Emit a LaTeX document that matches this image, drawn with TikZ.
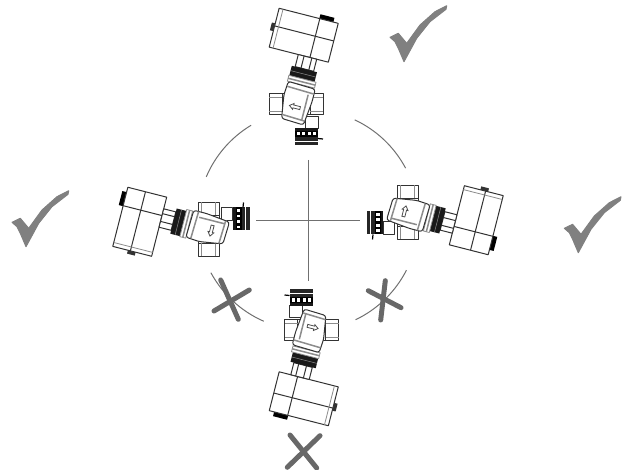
\documentclass[tikz,border=0pt]{standalone}
\usepackage{tikz}

\definecolor{markgray}{HTML}{808080}
\definecolor{crossgray}{HTML}{686868}
\definecolor{arcgray}{HTML}{707070}

\tikzset{
	outline/.style={draw=black!80,line width=1pt,line join=round},
	thinline/.style={draw=black!45,line width=0.8pt},
	thickgray/.style={draw=black!45,line width=1.5pt},
	arcline/.style={draw=arcgray,line width=1pt},
	crossline/.style={draw=crossgray,line width=5pt,line cap=round},
	valve/.pic={
		% stub under the body
		\draw[outline,fill=white] (9,12.7) rectangle (22,24.3);
		\draw[thickgray] (0,18) -- (9,18);
		\fill[black!90] (-1,24.3) rectangle (22,27);
		\fill[black] (-1,27) rectangle (22,33);
		\fill[white] (1,28) rectangle (3.5,31.5);
		\fill[white] (6,28) rectangle (9,31.5);
		\fill[white] (12,28) rectangle (14.5,31.5);
		\fill[white] (17,28) rectangle (20,31.5);
		\fill[black!85] (-1,33) rectangle (22,41);
		\draw[white,line width=0.4pt] (-1,37) -- (22,37);
		\draw[black,line width=1.2pt] (22,34.5) -- (27,35);
		% pipe
		\draw[outline,fill=white] (-27,-10.5) rectangle (27,10.5);
		\draw[outline] (-14,-10.5) -- (-14,10.5);
		\draw[outline] (14,-10.5) -- (14,10.5);
		\draw[thinline] (-27,-7) -- (-14,-7);
		\draw[thinline] (-27,7) -- (-14,7);
		\draw[thinline] (14,-7) -- (27,-7);
		\draw[thinline] (14,7) -- (27,7);
		\begin{scope}[rotate=-14.3]
			% actuator
			\fill[black] (1.5,-93) rectangle (16,-88);
			\fill[black!80] (-43.5,-73) rectangle (-40,-65);
			\draw[outline,fill=white] (-40,-88.6) rectangle (21,-48.5);
			\draw[outline] (-40,-70.4) -- (21,-70.4);
			\draw[outline] (2,-88.6) -- (2,-48.5);
			\draw[thinline] (-36,-88.6) -- (-36,-48.5);
			% neck and ring
			\draw[outline,fill=white] (-10,-48.5) rectangle (9,-36);
			\draw[outline] (-4,-48.5) -- (-4,-36);
			\draw[outline] (4,-48.5) -- (4,-36);
			\fill[black!90] (-13.5,-36) rectangle (12.5,-26);
			\draw[black!45,line width=0.5pt] (-13.5,-31) -- (12.5,-31);
			% body
			\draw[thinline,fill=white] (-14,-26) rectangle (14,-20);
			\draw[thickgray] (-14,-23) -- (14,-23);
			\draw[outline,fill=white,rounded corners=2.5pt] (-13,-20) -- (15,-19) -- (15,-6) -- (12.3,18.5) -- (-10.4,17.5) -- (-14,-6) -- cycle;
			\draw[thickgray] (-13,-15) -- (15,-14);
			\draw[thickgray] (-11,13.5) -- (12.5,14.5);
			\draw[thickgray] (9.5,-12) -- (9.5,14);
			% flow arrow
			\draw[draw=black!70,line width=0.8pt,fill=white] (-6,3) -- (-2,0) -- (-2,1.5) -- (5,1.5) -- (5,4.5) -- (-2,4.5) -- (-2,6) -- cycle;
		\end{scope}
	},
	okmark/.pic={
		\fill[markgray,draw=markgray,line width=1pt,line join=round] (0,0) -- (-5.7,-13.4) -- (-9,-20) -- (-14,-24.4) -- (-5.7,-28.4) -- (2.7,-18.4) -- (16,-36.7) -- (31,-50) -- (42.7,-56) -- (42,-52.4) -- (26,-40) -- (12.7,-23.4) -- cycle;
	},
}

\begin{document}
\begin{tikzpicture}[x=1pt,y=-1pt]
	\useasboundingbox (0,0) rectangle (629,470);

	\coordinate (mid) at (308,220);

	% axes
	\coordinate (axisT) at (308,160);
	\coordinate (axisB) at (308,281);
	\coordinate (axisL) at (256,220.5);
	\coordinate (axisR) at (360,220.5);
	\draw[arcline] (axisT) -- (axisB);
	\draw[arcline] (axisL) -- (axisR);

	% circle pieces
	\draw[arcline] (mid) ++(-157:110.5) arc (-157:-121:110.5);
	\draw[arcline] (mid) ++(-65:110.5) arc (-65:-28:110.5);
	\draw[arcline] (mid) ++(-208.5:110.5) arc (-208.5:-246.4:110.5);
	\draw[arcline] (mid) ++(64.5:110.5) arc (64.5:27:110.5);

	% valves
	\pic at (296,104) {valve};
	\pic[rotate=90] at (208.5,229.5) {valve};
	\pic[rotate=-90] at (407.5,212.5) {valve};
	\pic[rotate=180] at (311.5,330) {valve};

	% marks
	\pic at (404,61.7) {okmark};
	\pic at (26,246.7) {okmark};
	\pic at (578.3,252.7) {okmark};

	\coordinate (crossLa) at (220.7,280);
	\coordinate (crossLb) at (238.3,319.3);
	\coordinate (crossLc) at (249.3,290);
	\coordinate (crossLd) at (214,311);
	\draw[crossline] (crossLa) -- (crossLb);
	\draw[crossline] (crossLc) -- (crossLd);

	\coordinate (crossRa) at (385.3,280.7);
	\coordinate (crossRb) at (380.7,320);
	\coordinate (crossRc) at (368.3,290.7);
	\coordinate (crossRd) at (401,307.7);
	\draw[crossline] (crossRa) -- (crossRb);
	\draw[crossline] (crossRc) -- (crossRd);

	\coordinate (crossBa) at (290,435);
	\coordinate (crossBb) at (316.7,468);
	\coordinate (crossBc) at (320,435.7);
	\coordinate (crossBd) at (287.3,467.3);
	\draw[crossline] (crossBa) -- (crossBb);
	\draw[crossline] (crossBc) -- (crossBd);
\end{tikzpicture}
\end{document}
